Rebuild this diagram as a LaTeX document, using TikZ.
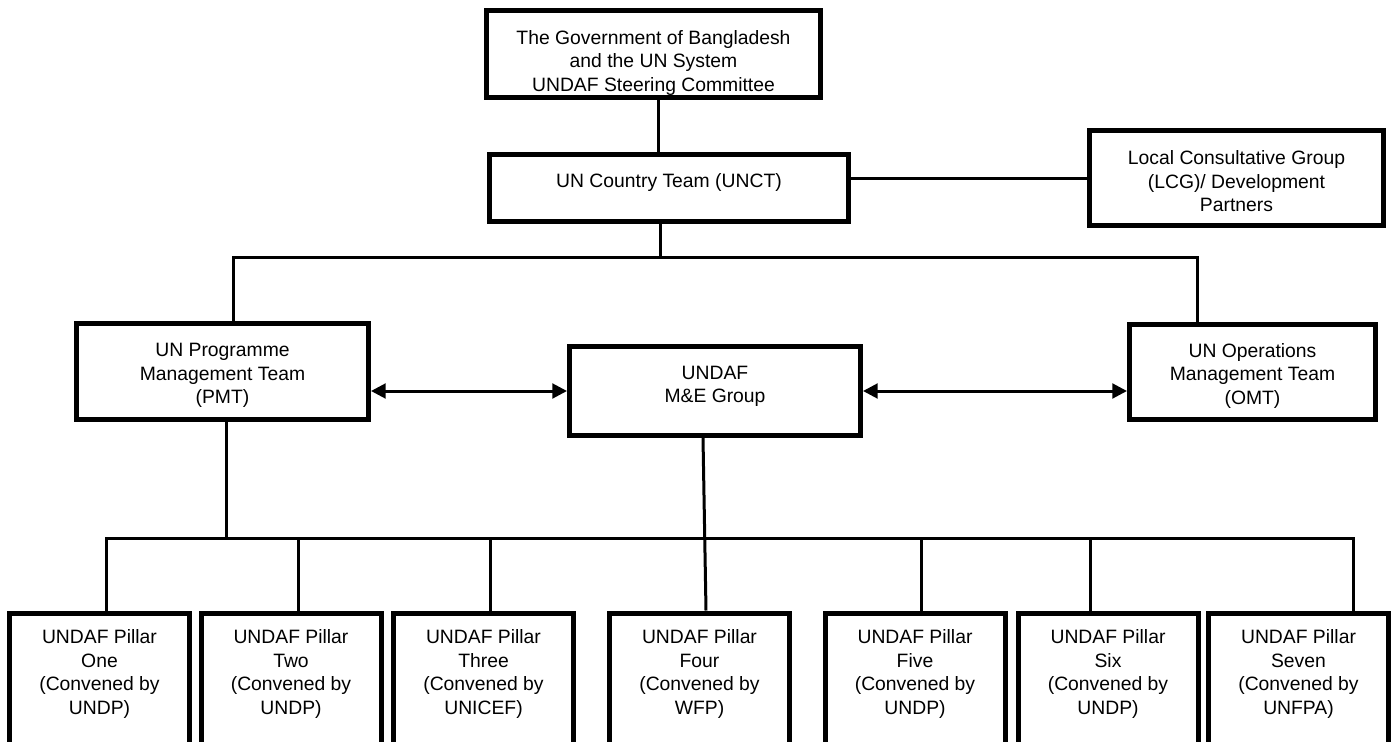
\documentclass[tikz,border=0pt]{standalone}
\usepackage{fontspec}
\setmainfont{Liberation Sans}
\usetikzlibrary{arrows.meta}
\newcommand{\mlines}[2][0pt]{\raisebox{#1}[\height][\depth]{\begin{tabular}{@{}c@{}}#2\end{tabular}}}
\begin{document}
\begin{tikzpicture}[x=0.75pt,y=-0.75pt,
  box/.style={draw=black, line width=3.75pt, rectangle, inner sep=0pt,
    font=\fontsize{14.5pt}{17.6pt}\selectfont, align=center},
  conn/.style={draw=black, line width=2.25pt},
  arr/.style={conn, {Triangle[length=11pt,width=11pt]}-{Triangle[length=11pt,width=11pt]}},
  pillar/.style={box, minimum width=135pt, minimum height=101.25pt, anchor=north}]
\useasboundingbox (0,0) rectangle (1396,742);
\clip (0,0) rectangle (1396,742);
\fill[white] (0,0) rectangle (1396,742);

% upper boxes
\node[box, minimum width=250.5pt, minimum height=65.25pt] (gov) at (653.5,54)
  {\mlines[-6.75pt]{The Government of Bangladesh\\and the UN System\\UNDAF Steering Committee}};
\node[box, minimum width=269.25pt, minimum height=50.25pt] (unct) at (669,188)
  {\mlines[3.75pt]{UN Country Team (UNCT)}};
\node[box, minimum width=220.5pt, minimum height=71.25pt] (lcg) at (1236.5,178)
  {\mlines[-4pt]{Local Consultative Group\\(LCG)/ Development\\Partners}};
\node[box, minimum width=219pt, minimum height=72pt] (pmt) at (222.5,371.5)
  {\mlines[-3pt]{UN Programme\\Management Team\\(PMT)}};
\node[box, minimum width=218.25pt, minimum height=66.75pt] (me) at (715,391)
  {\mlines[3.4pt]{UNDAF\\M\&E Group}};
\node[box, minimum width=184.5pt, minimum height=71.25pt] (omt) at (1252.5,372)
  {\mlines[-3pt]{UN Operations\\Management Team\\(OMT)}};

% pillars (top stroke centre at y=610.5)
\node[pillar] (p1) at (99.5,610.5) {\mlines[4.5pt]{UNDAF Pillar\\One\\(Convened by\\UNDP)}};
\node[pillar] (p2) at (291,610.5) {\mlines[4.5pt]{UNDAF Pillar\\Two\\(Convened by\\UNDP)}};
\node[pillar] (p3) at (483.5,610.5) {\mlines[4.5pt]{UNDAF Pillar\\Three\\(Convened by\\UNICEF)}};
\node[pillar] (p4) at (699.5,610.5) {\mlines[4.5pt]{UNDAF Pillar\\Four\\(Convened by\\WFP)}};
\node[pillar] (p5) at (915,610.5) {\mlines[4.5pt]{UNDAF Pillar\\Five\\(Convened by\\UNDP)}};
\node[pillar] (p6) at (1108,610.5) {\mlines[4.5pt]{UNDAF Pillar\\Six\\(Convened by\\UNDP)}};
\node[pillar] (p7) at (1298.5,610.5) {\mlines[4.5pt]{UNDAF Pillar\\Seven\\(Convened by\\UNFPA)}};

% helper coordinates
\coordinate (c1) at (658,0);
\coordinate (c2) at (660,257);
\coordinate (c3) at (233,257);
\coordinate (c4) at (1197,257);
\coordinate (d0) at (226,538);
\coordinate (e1) at (703,0);
\coordinate (e2) at (706,0);
\coordinate (b1) at (106,538);
\coordinate (b2) at (298,538);
\coordinate (b3) at (490,538);
\coordinate (b5) at (921,538);
\coordinate (b6) at (1090,538);
\coordinate (b7) at (1353,538);

% connectors
\draw[conn] (gov.south -| c1) -- (unct.north -| c1);
\draw[conn] (unct.east |- lcg.west) -- (lcg.west);
\draw[conn] (unct.south -| c2) -- (c2);
\draw[conn, line join=miter] (pmt.north -| c3) -- (c3) -- (c4) -- (omt.north -| c4);
\draw[arr] (pmt.east |- me.west) -- (me.west);
\draw[arr] (me.east) -- (omt.west |- me.east);
\draw[conn] (pmt.south -| d0) -- (d0);
\draw[conn] (me.south -| e1) -- (p4.north -| e2);
\draw[conn, line join=miter] (p1.north -| b1) -- (b1) -- (b7) -- (p7.north -| b7);
\draw[conn] (b2) -- (p2.north -| b2);
\draw[conn] (b3) -- (p3.north -| b3);
\draw[conn] (b5) -- (p5.north -| b5);
\draw[conn] (b6) -- (p6.north -| b6);
\end{tikzpicture}
\end{document}
